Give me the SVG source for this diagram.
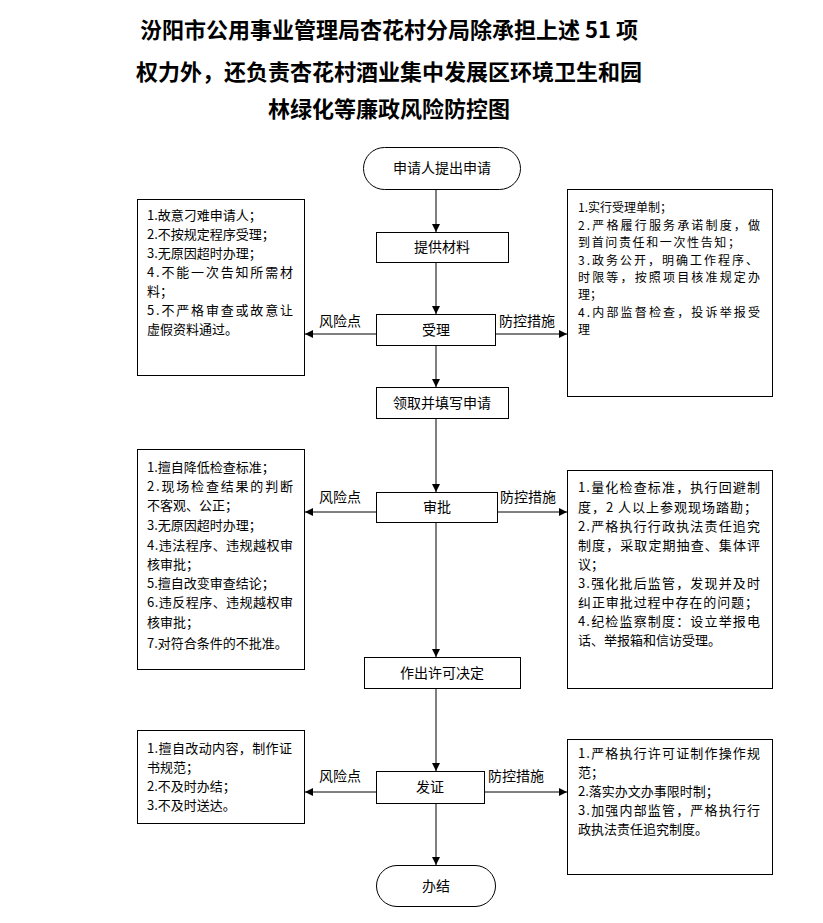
<svg xmlns="http://www.w3.org/2000/svg" width="823" height="923" viewBox="0 0 823 923">
<style>
.title{font-family:"Noto Sans CJK SC","Liberation Sans",sans-serif;font-size:22px;font-weight:bold;fill:#000;text-anchor:middle}
.node{fill:#fff;stroke:#000;stroke-width:1}
.nt{font-family:"Noto Sans CJK SC","Liberation Sans",sans-serif;font-size:14px;fill:#000;text-anchor:middle}
.lbl{font-family:"Noto Sans CJK SC","Liberation Sans",sans-serif;font-size:14px;fill:#000}
.bt{font-family:"Noto Sans CJK SC","Liberation Sans",sans-serif;font-size:13px;fill:#000}
.rt{font-family:"Noto Sans CJK SC","Liberation Sans",sans-serif;font-size:13px;fill:#000}
.rs{font-family:"Noto Sans CJK SC","Liberation Sans",sans-serif;font-size:12px;fill:#000}
.conn{stroke:#000;stroke-width:1;fill:none;marker-end:url(#ah)}
</style>
<defs>
<marker id="ah" viewBox="0 0 10 10" refX="10" refY="5" markerWidth="8" markerHeight="8" markerUnits="userSpaceOnUse" orient="auto">
<path d="M0,0 L10,5 L0,10 z" fill="#000"/>
</marker>
</defs>
<rect width="823" height="923" fill="#fff"/>
<g id="title">
<text class="title" x="389" y="38">汾阳市公用事业管理局杏花村分局除承担上述 51 项</text>
<text class="title" x="389" y="80">权力外，还负责杏花村酒业集中发展区环境卫生和园</text>
<text class="title" x="389" y="117">林绿化等廉政风险防控图</text>
</g>
<g id="connectors">
<line class="conn" x1="436" y1="189" x2="436" y2="232"/>
<line class="conn" x1="436" y1="262" x2="436" y2="314"/>
<line class="conn" x1="436" y1="345" x2="436" y2="387"/>
<line class="conn" x1="436" y1="418" x2="436" y2="492"/>
<line class="conn" x1="436" y1="522" x2="436" y2="657"/>
<line class="conn" x1="436" y1="688" x2="436" y2="771"/>
<line class="conn" x1="436" y1="803" x2="436" y2="865"/>
<line class="conn" x1="376" y1="334" x2="305" y2="334"/>
<line class="conn" x1="495" y1="334" x2="567" y2="334"/>
<line class="conn" x1="376" y1="512" x2="305" y2="512"/>
<line class="conn" x1="497" y1="512" x2="567" y2="512"/>
<line class="conn" x1="376" y1="792" x2="305" y2="792"/>
<line class="conn" x1="484" y1="792" x2="567" y2="792"/>
<text class="lbl" x="319" y="326">风险点</text>
<text class="lbl" x="499" y="326">防控措施</text>
<text class="lbl" x="319" y="502">风险点</text>
<text class="lbl" x="500" y="502">防控措施</text>
<text class="lbl" x="319" y="781">风险点</text>
<text class="lbl" x="488" y="781">防控措施</text>
</g>
<g id="n-start">
<rect class="node" x="363.5" y="147.5" width="157" height="42" rx="21" ry="21"/>
<text class="nt" x="442" y="173">申请人提出申请</text>
</g>
<g id="n-material">
<rect class="node" x="376.5" y="232.5" width="132" height="30"/>
<text class="nt" x="442" y="252">提供材料</text>
</g>
<g id="n-accept">
<rect class="node" x="376.5" y="314.5" width="119" height="31"/>
<text class="nt" x="436" y="335">受理</text>
</g>
<g id="n-fill">
<rect class="node" x="376.5" y="387.5" width="132" height="31"/>
<text class="nt" x="442" y="408">领取并填写申请</text>
</g>
<g id="n-approve">
<rect class="node" x="376.5" y="492.5" width="121" height="30"/>
<text class="nt" x="437" y="512">审批</text>
</g>
<g id="n-decide">
<rect class="node" x="364.5" y="657.5" width="156" height="31"/>
<text class="nt" x="442" y="678">作出许可决定</text>
</g>
<g id="n-issue">
<rect class="node" x="376.5" y="771.5" width="108" height="32"/>
<text class="nt" x="430" y="792">发证</text>
</g>
<g id="n-end">
<rect class="node" x="376.5" y="865.5" width="119" height="41" rx="20.5" ry="20.5"/>
<text class="nt" x="436" y="891">办结</text>
</g>
<g id="risk1">
<rect class="node" x="137.5" y="199.5" width="167" height="176"/>
<text class="bt" x="147" y="220">1.故意刁难申请人；</text>
<text class="bt" x="147" y="239">2.不按规定程序受理；</text>
<text class="bt" x="147" y="258">3.无原因超时办理；</text>
<text class="bt" x="147" y="277" textLength="146" lengthAdjust="spacing">4.不能一次告知所需材</text>
<text class="bt" x="147" y="296">料；</text>
<text class="bt" x="147" y="315" textLength="146" lengthAdjust="spacing">5.不严格审查或故意让</text>
<text class="bt" x="147" y="334">虚假资料通过。</text>
</g>
<g id="measure1">
<rect class="node" x="567.5" y="189.5" width="205" height="207"/>
<text class="rs" x="578" y="212">1.实行受理单制；</text>
<text class="rs" x="578" y="229.5" textLength="182" lengthAdjust="spacing">2.严格履行服务承诺制度，做</text>
<text class="rs" x="578" y="247" textLength="162" lengthAdjust="spacing">到首问责任和一次性告知；</text>
<text class="rs" x="578" y="264.5" textLength="180" lengthAdjust="spacing">3.政务公开，明确工作程序、</text>
<text class="rs" x="578" y="282" textLength="182" lengthAdjust="spacing">时限等，按照项目核准规定办</text>
<text class="rs" x="578" y="299">理；</text>
<text class="rs" x="578" y="316.5" textLength="182" lengthAdjust="spacing">4.内部监督检查，投诉举报受</text>
<text class="rs" x="578" y="334">理</text>
</g>
<g id="risk2">
<rect class="node" x="137.5" y="449.5" width="167" height="220"/>
<text class="bt" x="147" y="472">1.擅自降低检查标准；</text>
<text class="bt" x="147" y="491" textLength="146" lengthAdjust="spacing">2.现场检查结果的判断</text>
<text class="bt" x="147" y="510">不客观、公正；</text>
<text class="bt" x="147" y="530">3.无原因超时办理；</text>
<text class="bt" x="147" y="550" textLength="146" lengthAdjust="spacing">4.违法程序、违规越权审</text>
<text class="bt" x="147" y="569">核审批；</text>
<text class="bt" x="147" y="588">5.擅自改变审查结论；</text>
<text class="bt" x="147" y="607" textLength="146" lengthAdjust="spacing">6.违反程序、违规越权审</text>
<text class="bt" x="147" y="627">核审批；</text>
<text class="bt" x="147" y="648">7.对符合条件的不批准。</text>
</g>
<g id="measure2">
<rect class="node" x="567.5" y="470.5" width="205" height="218"/>
<text class="rt" x="578" y="492" textLength="182" lengthAdjust="spacing">1.量化检查标准，执行回避制</text>
<text class="rt" x="578" y="512" textLength="179" lengthAdjust="spacing">度，2 人以上参观现场踏勘；</text>
<text class="rt" x="578" y="531" textLength="182" lengthAdjust="spacing">2.严格执行行政执法责任追究</text>
<text class="rt" x="578" y="550" textLength="182" lengthAdjust="spacing">制度，采取定期抽查、集体评</text>
<text class="rt" x="578" y="569">议；</text>
<text class="rt" x="578" y="588" textLength="182" lengthAdjust="spacing">3.强化批后监管，发现并及时</text>
<text class="rt" x="578" y="607" textLength="180" lengthAdjust="spacing">纠正审批过程中存在的问题；</text>
<text class="rt" x="578" y="626" textLength="182" lengthAdjust="spacing">4.纪检监察制度：设立举报电</text>
<text class="rt" x="578" y="645">话、举报箱和信访受理。</text>
</g>
<g id="risk3">
<rect class="node" x="137.5" y="730.5" width="167" height="93"/>
<text class="bt" x="147" y="753" textLength="145" lengthAdjust="spacing">1.擅自改动内容，制作证</text>
<text class="bt" x="147" y="772">书规范；</text>
<text class="bt" x="147" y="791">2.不及时办结；</text>
<text class="bt" x="147" y="810">3.不及时送达。</text>
</g>
<g id="measure3">
<rect class="node" x="567.5" y="739.5" width="205" height="135"/>
<text class="rt" x="578" y="758" textLength="182" lengthAdjust="spacing">1.严格执行许可证制作操作规</text>
<text class="rt" x="578" y="777">范；</text>
<text class="rt" x="578" y="796">2.落实办文办事限时制；</text>
<text class="rt" x="578" y="815" textLength="182" lengthAdjust="spacing">3.加强内部监管，严格执行行</text>
<text class="rt" x="578" y="834">政执法责任追究制度。</text>
</g>
</svg>
